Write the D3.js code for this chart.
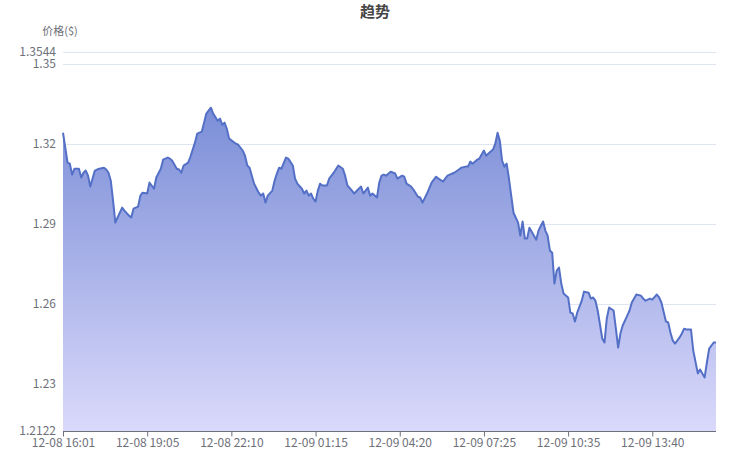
<!DOCTYPE html>
<html>
<head>
<meta charset="utf-8">
<script src="https://cdn.jsdelivr.net/npm/d3@7"></script>
<style>
  html, body { margin: 0; padding: 0; background: #fff; }
  svg { display: block; font-family: "Noto Sans CJK SC", "Noto Sans", sans-serif; }
</style>
</head>
<body>
<svg id="chart" width="750" height="462"></svg>
<script>
// ---- data ----
const title = "趋势";
const yName = "价格($)";
const categoryCount = 288;          // 5-minute samples on the category axis
const labelInterval = 37;           // label every N categories
const xTickLabels = ["12-08 16:01", "12-08 19:05", "12-08 22:10", "12-09 01:15",
                     "12-09 04:20", "12-09 07:25", "12-09 10:35", "12-09 13:40"];
const yTicks = [1.2122, 1.23, 1.26, 1.29, 1.32, 1.35, 1.3544];
const yMin = 1.2122, yMax = 1.3544;
// sample index on the category axis
const idx = [0,2,3,4,5,7,8,9,10,11,12,13,14,15,16,18,19,20,21,22,23,24,26,27,29,30,31,33,34,35,37,38,40,41,43,44,46,47,
  48,50,51,52,53,55,56,58,59,61,62,63,65,66,68,69,70,71,72,73,76,77,79,80,81,82,83,84,86,87,88,89,90,92,93,
  94,95,96,98,99,101,102,103,105,106,107,108,109,110,111,112,113,114,116,117,119,121,123,124,125,127,128,130,131,132,134,135,136,138,139,140,
  141,142,144,146,147,149,150,151,153,154,156,157,158,160,162,164,165,167,168,169,171,172,174,175,177,178,179,180,182,183,185,186,187,189,190,191,192,193,194,195,196,197,
  198,200,201,202,203,204,205,206,208,209,211,212,213,214,215,216,217,218,219,220,222,223,224,225,226,228,229,231,232,233,234,235,
  237,238,239,240,242,243,244,245,246,248,249,250,252,254,255,256,258,259,261,262,263,265,266,267,268,269,271,272,273,274,276,277,279,280,281,282,283,284,286,287];
const price = [1.3241,1.3129,1.3125,1.3084,1.3106,1.3106,1.3073,1.3091,1.3099,1.3080,1.3039,1.3069,1.3099,1.3103,1.3106,1.3110,1.3103,1.3091,1.3061,1.2986,1.2904,1.2923,1.2960,1.2949,1.2930,1.2923,1.2956,1.2964,1.3005,1.3016,1.3013,1.3054,1.3031,1.3073,1.3106,1.3140,1.3148,1.3144,
  1.3136,1.3106,1.3103,1.3091,1.3118,1.3129,1.3151,1.3204,1.3238,1.3245,1.3279,1.3313,1.3335,1.3313,1.3286,1.3294,1.3271,1.3279,1.3256,1.3219,1.3200,1.3196,1.3174,1.3155,1.3118,1.3110,1.3080,1.3050,1.3016,1.3005,1.3013,1.2979,1.3005,1.3024,1.3061,
  1.3088,1.3110,1.3106,1.3148,1.3144,1.3118,1.3069,1.3050,1.3031,1.3013,1.3024,1.3005,1.3013,1.2994,1.2983,1.3024,1.3050,1.3043,1.3043,1.3069,1.3091,1.3118,1.3106,1.3080,1.3043,1.3024,1.3013,1.3031,1.3039,1.3013,1.3035,1.3005,1.3013,1.2998,1.3054,1.3080,
  1.3084,1.3080,1.3095,1.3088,1.3069,1.3080,1.3076,1.3050,1.3039,1.3028,1.3001,1.2998,1.2979,1.3013,1.3054,1.3076,1.3069,1.3058,1.3069,1.3080,1.3088,1.3091,1.3103,1.3110,1.3114,1.3114,1.3133,1.3125,1.3140,1.3144,1.3174,1.3155,1.3163,1.3178,1.3200,1.3241,1.3211,1.3136,1.3114,1.3125,1.3069,1.3005,
  1.2941,1.2904,1.2855,1.2908,1.2844,1.2844,1.2885,1.2870,1.2840,1.2874,1.2908,1.2874,1.2855,1.2799,1.2791,1.2675,1.2724,1.2735,1.2675,1.2638,1.2623,1.2566,1.2563,1.2533,1.2566,1.2611,1.2645,1.2641,1.2619,1.2623,1.2611,1.2574,
  1.2469,1.2454,1.2544,1.2585,1.2574,1.2506,1.2435,1.2488,1.2518,1.2555,1.2574,1.2604,1.2634,1.2630,1.2619,1.2611,1.2619,1.2615,1.2634,1.2623,1.2604,1.2533,1.2529,1.2491,1.2461,1.2450,1.2473,1.2488,1.2506,1.2503,1.2503,1.2424,1.2338,1.2353,1.2338,1.2323,1.2379,1.2431,1.2454,1.2454];

// ---- layout ----
const W = 750, H = 462;
const margin = { left: 63, right: 34, top: 52, bottom: 31 };
const plotW = W - margin.left - margin.right;
const plotH = H - margin.top - margin.bottom;

const svg = d3.select("#chart");
const data = idx.map((d, i) => ({ i: d, v: price[i] }));

const x = d3.scaleLinear().domain([0, categoryCount - 1]).range([margin.left, margin.left + plotW]);
const y = d3.scaleLinear().domain([yMin, yMax]).range([margin.top + plotH, margin.top]);

// gradient
const defs = svg.append("defs");
const grad = defs.append("linearGradient").attr("id", "areaGrad")
  .attr("gradientUnits", "userSpaceOnUse")
  .attr("x1", 0).attr("x2", 0)
  .attr("y1", y(d3.max(price))).attr("y2", y(yMin));
grad.append("stop").attr("offset", "0%").attr("stop-color", "#7b8ed7");
grad.append("stop").attr("offset", "100%").attr("stop-color", "#dad9fb");

// grid lines
svg.append("g").selectAll("line")
  .data(yTicks.slice(1))
  .join("line")
  .attr("x1", margin.left).attr("x2", margin.left + plotW)
  .attr("y1", d => Math.round(y(d)) + 0.5).attr("y2", d => Math.round(y(d)) + 0.5)
  .attr("stroke", "#e0e6f1").attr("stroke-width", 1);

// area + line
const area = d3.area().x(d => x(d.i)).y0(y(yMin)).y1(d => y(d.v));
const line = d3.line().x(d => x(d.i)).y(d => y(d.v));
svg.append("path").datum(data).attr("d", area).attr("fill", "url(#areaGrad)");
svg.append("path").datum(data).attr("d", line)
  .attr("fill", "none").attr("stroke", "#5470c6").attr("stroke-width", 2)
  .attr("stroke-linejoin", "round");

// y axis labels
const yAxis = d3.axisLeft(y).tickValues(yTicks).tickSize(0).tickPadding(7)
  .tickFormat(d => String(d));
const gy = svg.append("g").attr("transform", `translate(${margin.left},0)`).call(yAxis);
gy.select(".domain").remove();
gy.selectAll("text").attr("fill", "#6e7079").style("font-size", "12px")
  .style("font-family", "'Noto Sans CJK SC', sans-serif");

// x axis
const tickIdx = xTickLabels.map((_, k) => k * labelInterval);
const xAxis = d3.axisBottom(x).tickValues(tickIdx).tickSize(5).tickPadding(2)
  .tickFormat((d, k) => xTickLabels[k]);
const gx = svg.append("g").attr("transform", `translate(0,${margin.top + plotH + 0.5})`).call(xAxis);
gx.select(".domain").attr("stroke", "#6e7079").attr("d", `M${margin.left},0H${margin.left + plotW}`);
gx.selectAll(".tick line").attr("stroke", "#6e7079");
gx.selectAll("text").attr("fill", "#6e7079").style("font-size", "12px")
  .style("font-family", "'Noto Sans CJK SC', sans-serif");

// axis name
svg.append("text").attr("x", 60).attr("y", 35).attr("text-anchor", "middle")
  .attr("fill", "#6e7079").style("font-size", "11px").text(yName);

// title
svg.append("text").attr("x", W / 2).attr("y", 17).attr("text-anchor", "middle")
  .attr("fill", "#464646").style("font-size", "15px").style("font-weight", "bold").text(title);
</script>
</body>
</html>
